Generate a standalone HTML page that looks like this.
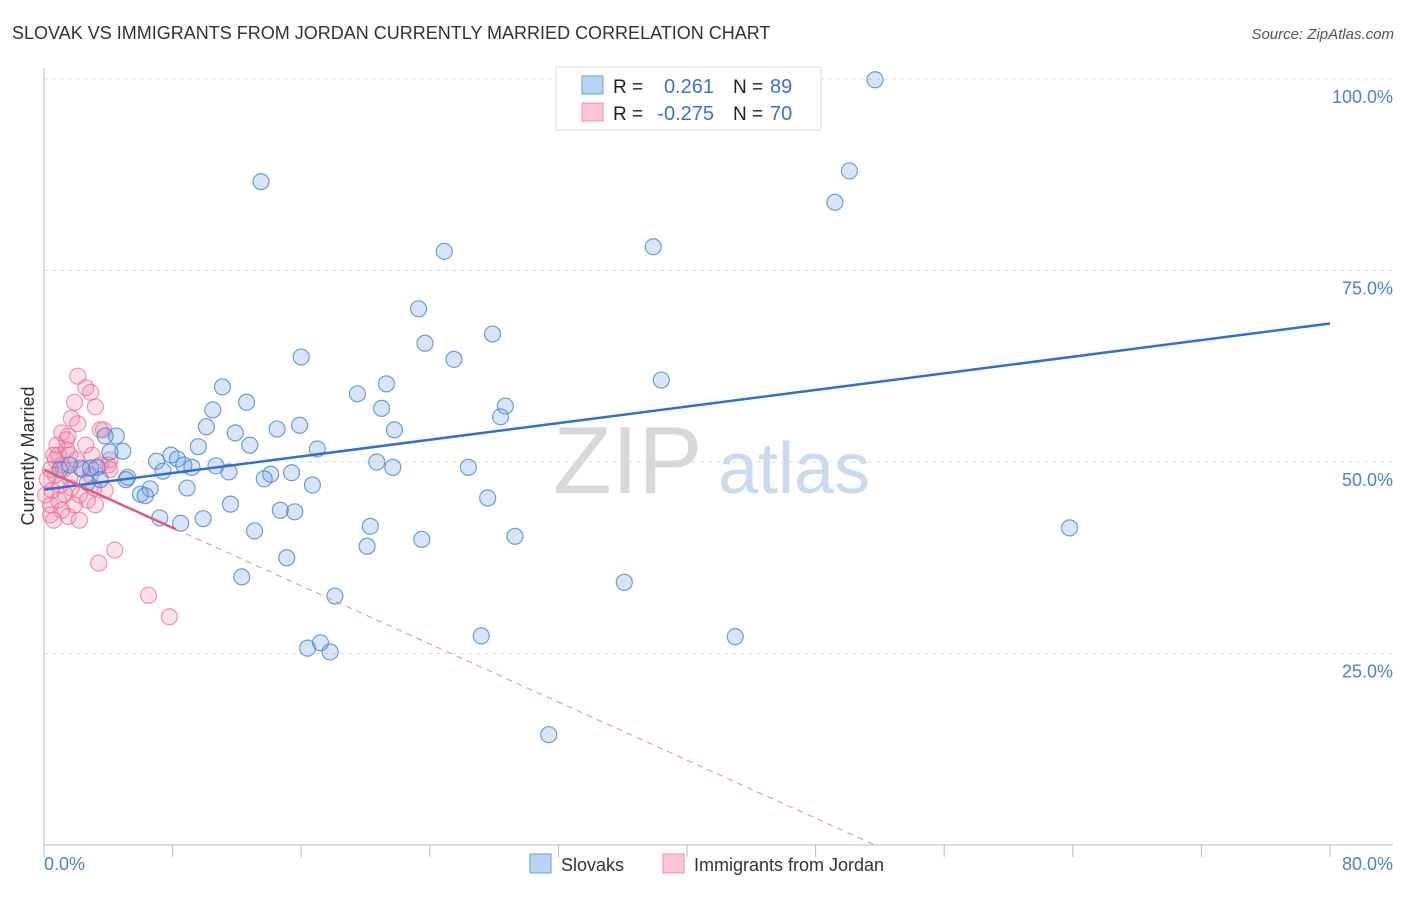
<!DOCTYPE html>
<html><head><meta charset="utf-8"><style>
body{margin:0;background:#fff;font-family:"Liberation Sans",sans-serif}
svg text{font-family:"Liberation Sans",sans-serif}
</style></head><body>
<svg id="c" width="1406" height="892" xmlns="http://www.w3.org/2000/svg">
<text x="12" y="39" font-size="18" fill="#333">SLOVAK VS IMMIGRANTS FROM JORDAN CURRENTLY MARRIED CORRELATION CHART</text>
<text x="1394" y="39" font-size="15" fill="#555" font-style="italic" text-anchor="end">Source: ZipAtlas.com</text>
<text x="34" y="456" font-size="18" fill="#333" text-anchor="middle" transform="rotate(-90 34 456)">Currently Married</text>
<g>
<text x="553" y="493" font-size="96" fill="#d8d8d8" font-family="Liberation Serif">ZIP</text>
<text x="718" y="493" font-size="72" fill="#c9daf0">atlas</text>
</g>
<g id="grid"></g><g id="axes"></g><g id="pts"></g><g id="lines"></g>
<g>
<rect x="556" y="67" width="265" height="63" fill="#fff" stroke="#ddd"/>
<rect x="582" y="76" width="21" height="18" fill="#b9d2f5" stroke="#6f9de0"/>
<rect x="582" y="103" width="21" height="18" fill="#fcc5d6" stroke="#ec8fae"/>
<text x="613" y="93" font-size="19" fill="#222">R =</text>
<text x="714" y="93" font-size="20" fill="#3b72d4" text-anchor="end">0.261</text>
<text x="733" y="93" font-size="19" fill="#222">N =</text>
<text x="770" y="93" font-size="20" fill="#3b72d4">89</text>
<text x="613" y="120" font-size="19" fill="#222">R =</text>
<text x="714" y="120" font-size="20" fill="#3b72d4" text-anchor="end">-0.275</text>
<text x="733" y="120" font-size="19" fill="#222">N =</text>
<text x="770" y="120" font-size="20" fill="#3b72d4">70</text>
</g>
<g>
<rect x="530" y="854" width="21" height="19" fill="#b9d2f5" stroke="#6f9de0"/>
<text x="561" y="871" font-size="18" fill="#333">Slovaks</text>
<rect x="663" y="854" width="21" height="19" fill="#fcc5d6" stroke="#ec8fae"/>
<text x="694" y="871" font-size="18" fill="#333">Immigrants from Jordan</text>
</g>
</svg>
<script>
const blueX=[51.7,13.5,50.1,49.2,24.9,37.9,23.3,27.9,23.7,16.0,25.5,38.4,21.3,11.1,19.5,12.6,10.5,21.0,28.7,28.4,15.9,14.5,21.8,11.9,10.1,4.5,3.8,17.0,12.8,7.9,9.6,7.0,8.3,4.9,4.1,20.7,21.7,26.4,8.7,10.7,9.2,7.4,11.5,14.1,15.4,13.7,2.3,2.9,3.3,5.2,2.7,5.1,6.6,8.9,16.7,6.0,6.3,27.6,11.6,14.7,15.6,7.2,8.5,9.9,20.3,13.1,23.5,29.3,20.1,63.8,15.1,12.3,36.1,18.1,27.2,43.0,16.4,17.2,17.8,31.4,1.0,1.6,3.5];
const blueY=[99.9,86.6,88.0,83.9,77.5,78.1,70.0,66.7,65.5,63.7,63.4,60.7,60.2,59.8,58.9,57.8,56.8,57.0,57.3,55.9,54.8,54.3,54.2,53.8,54.6,53.4,53.4,51.7,52.2,50.9,52.0,50.1,50.4,51.4,51.3,50.0,49.3,49.3,49.6,49.5,49.3,48.8,48.7,48.4,48.6,47.8,49.2,49.2,49.3,48.0,47.3,47.7,46.5,46.6,47.0,45.8,45.6,45.3,44.5,43.7,43.5,42.7,42.0,42.6,41.6,41.0,39.9,40.3,39.0,41.4,37.5,35.0,34.3,32.5,27.3,27.2,25.7,26.4,25.2,14.4,49.0,49.6,47.7];
const pinkX=[2.1,2.6,2.9,3.2,1.9,1.7,2.1,1.1,1.5,4.4,3.4,6.5,7.8,1.4,0.7,0.4,0.2,0.5,0.9,1.1,1.5,1.9,2.2,2.9,3.5,3.8,4.1,3.7,3.2,0.4,0.6,0.8,1.1,1.6,1.7,1.3,2.6,3.0,4.0,1.0,0.7,1.4,2.0,2.4,0.4,0.1,0.6,1.2,1.6,2.7,3.5,4.1,3.1,2.2,0.9];
const pinkY=[61.2,59.7,59.1,57.2,57.8,55.7,55.0,53.8,53.4,38.5,36.8,32.6,29.8,51.6,50.3,49.0,47.7,46.3,45.0,43.7,42.9,44.4,45.7,48.3,49.6,46.3,50.3,54.2,44.4,43.1,50.9,52.2,49.6,47.9,46.6,45.8,52.2,50.9,49.6,47.0,48.3,52.9,50.3,49.0,44.4,45.7,42.4,49.0,50.9,45.0,54.2,49.0,46.6,42.4,50.9];
const xTicks=[0,80];
const xTickLabels=["0.0%","80.0%"];
const yTicks=[25,50,75,100];
const yTickLabels=["25.0%","50.0%","75.0%","100.0%"];
const blueTrend=[46.4,0.271]; // intercept, slope
const pinkTrend=[49.0,-0.948];
const pinkSolidEnd=8.2;

const NS="http://www.w3.org/2000/svg";
const X0=44,X1=1330,Y0=845,Y100=79;
const sx=v=>X0+(X1-X0)*v/80, sy=v=>Y0-(Y0-Y100)*v/100;
function mk(p,t,a){const e=document.createElementNS(NS,t);for(const k in a)e.setAttribute(k,a[k]);p.appendChild(e);return e;}
const grid=document.getElementById('grid'),axes=document.getElementById('axes'),pts=document.getElementById('pts'),lines=document.getElementById('lines');
yTicks.forEach((t,i)=>{
 const l=mk(grid,'line',{x1:X0,x2:1393,y1:sy(t),y2:sy(t),stroke:'#ddd','stroke-dasharray':'4 4'});
 
 
 const tx=mk(axes,'text',{x:1393,y:sy(t)+24,'font-size':18,fill:'#4a82d6','text-anchor':'end'});tx.textContent=yTickLabels[i];
 
 
});
const ya=mk(axes,'line',{x1:X0,x2:X0,y1:68,y2:Y0,stroke:'#bbb'});


const xa=mk(axes,'line',{x1:X0,x2:1393,y1:Y0,y2:Y0,stroke:'#bbb'});


for(let k=0;k<=10;k++){const t=mk(axes,'line',{x1:sx(k*8),x2:sx(k*8),y1:Y0,y2:Y0+12,stroke:'#bbb'});
 
 }
xTicks.forEach((t,i)=>{const tx=mk(axes,'text',{x:i==0?X0:1393,y:870,'font-size':18,fill:'#4a82d6','text-anchor':i==0?'start':'end'});tx.textContent=xTickLabels[i];
 
 });
pinkX.forEach((v,i)=>{const c=mk(pts,'circle',{cx:sx(v),cy:sy(pinkY[i]),r:8,fill:'rgba(242,128,164,0.25)',stroke:'rgba(232,110,150,0.7)','stroke-width':1.2});
 
 });
blueX.forEach((v,i)=>{const c=mk(pts,'circle',{cx:sx(v),cy:sy(blueY[i]),r:8,fill:'rgba(110,160,230,0.28)',stroke:'rgba(70,125,210,0.75)','stroke-width':1.2});
 
 });
const bl=mk(lines,'line',{x1:sx(0),y1:sy(blueTrend[0]),x2:sx(80),y2:sy(blueTrend[0]+80*blueTrend[1]),stroke:'#2f6fd6','stroke-width':2.5});


const pEnd=-pinkTrend[0]/pinkTrend[1];
const pd=mk(lines,'line',{x1:sx(pinkSolidEnd),y1:sy(pinkTrend[0]+pinkSolidEnd*pinkTrend[1]),x2:sx(pEnd),y2:sy(0),stroke:'#e88aa8','stroke-width':1,'stroke-dasharray':'6 5'});


const ps=mk(lines,'line',{x1:sx(0),y1:sy(pinkTrend[0]),x2:sx(pinkSolidEnd),y2:sy(pinkTrend[0]+pinkSolidEnd*pinkTrend[1]),stroke:'#e05a88','stroke-width':2.5});


</script>
</body></html>
